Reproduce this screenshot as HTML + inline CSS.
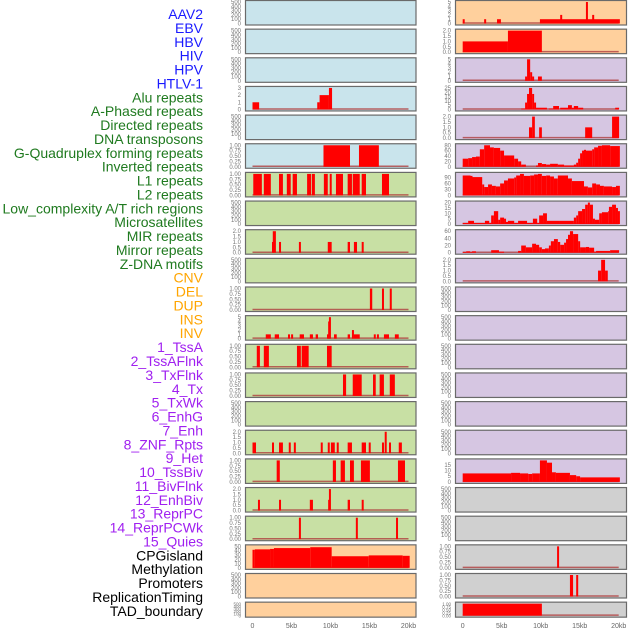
<!DOCTYPE html>
<html><head><meta charset="utf-8"><style>
html,body{margin:0;padding:0;background:#fff;}
svg{display:block;}
</style></head><body>
<svg id="chart" width="630" height="630" viewBox="0 0 630 630" xmlns="http://www.w3.org/2000/svg"></svg>
<script>
// ---- data ----
const labelsBlue = ["AAV2","EBV","HBV","HIV","HPV","HTLV-1"];
const labelsGreen = ["Alu repeats","A-Phased repeats","Directed repeats","DNA transposons","G-Quadruplex forming repeats","Inverted repeats","L1 repeats","L2 repeats","Low_complexity A/T rich regions","Microsatellites","MIR repeats","Mirror repeats","Z-DNA motifs"];
const labelsOrange = ["CNV","DEL","DUP","INS","INV"];
const labelsPurple = ["1_TssA","2_TssAFlnk","3_TxFlnk","4_Tx","5_TxWk","6_EnhG","7_Enh","8_ZNF_Rpts","9_Het","10_TssBiv","11_BivFlnk","12_EnhBiv","13_ReprPC","14_ReprPCWk","15_Quies"];
const labelsBlack = ["CPGisland","Methylation","Promoters","ReplicationTiming","TAD_boundary"];
const xTickVals = [0,5,10,15,20];
const xTickLabels = ["0","5kb","10kb","15kb","20kb"];

const E = [0,100,200,300,400,500];
const F = [0,0.25,0.5,0.75,1];
const T2 = [0,0.5,1,1.5,2];
const leftTicks = [E,E,E,[0,1,2,3],E,F,F,E,T2,E,F,[0,1,2,3,4,5],F,F,E,T2,F,T2,F,[0,10,20,30,40,50],E,E];
const rightTicks = [[0,1,2,3,4,5],T2,[0,1,2,3,4,5],[0,5,10,15,20,25],T2,[0,20,40,60,80],[0,30,60,90],[0,5,10,15,20],[0,20,40,60],T2,E,E,E,E,E,E,[0,5,10,15],E,E,F,F,F];
const rightMax = [5,2,5,25,2,80,108,20,60,2,500,500,500,500,500,500,19,500,500,1,1,1];
const leftBg = ["#c9e4ec","#c9e4ec","#c9e4ec","#c9e4ec","#c9e4ec","#c9e4ec","#c8e0a4","#c8e0a4","#c8e0a4","#c8e0a4","#c8e0a4","#c8e0a4","#c8e0a4","#c8e0a4","#c8e0a4","#c8e0a4","#c8e0a4","#c8e0a4","#c8e0a4","#ffd09d","#ffd09d","#ffd09d"];
const rightBg = ["#ffd09d","#ffd09d","#d6c6e2","#d6c6e2","#d6c6e2","#d6c6e2","#d6c6e2","#d6c6e2","#d6c6e2","#d6c6e2","#d6c6e2","#d6c6e2","#d6c6e2","#d6c6e2","#d6c6e2","#d6c6e2","#d6c6e2","#d0d0d0","#d0d0d0","#d0d0d0","#d0d0d0","#d0d0d0"];

// segments: [startKb, endKb, value]
const L3 = [[0,0.85,1],[8.3,8.6,1],[8.6,9.8,2],[9.8,10.2,3]];
const L5 = [[9.1,12.5,1],[13.65,16.2,1]];
const L6 = [[0.1,1.2,1],[1.45,2.35,1],[3.4,3.9,1],[4.4,4.9,1],[5.15,5.7,1],[7.0,7.5,1],[7.6,8.0,1],[9.15,9.65,1],[9.9,10.15,1],[10.7,11.6,1],[12.2,12.75,1],[12.85,13.75,1],[14.0,14.55,1],[16.6,17.5,1]];
const L8 = [[2.5,2.6,1],[2.6,3.0,2],[3.4,3.65,1],[5.95,6.2,1],[9.65,10.15,1],[12.2,12.5,1],[13.0,13.4,1],[14.0,14.25,1]];
const L10 = [[15.05,15.35,1],[16.6,16.85,1],[17.6,17.85,1]];
const L11 = [[1.7,2.35,1],[2.85,3.4,1],[4.55,4.8,1],[4.95,5.2,1],[6.05,6.6,1],[7.35,7.75,1],[8.1,8.4,1],[9.55,9.7,1],[9.7,9.8,4],[9.8,10.0,5],[10.45,10.8,1],[12.2,12.5,1],[12.75,13.0,2],[13.0,13.75,1],[15.55,15.8,1],[15.95,16.2,1],[16.85,17.5,1],[18.25,18.75,1]];
const L12 = [[0.55,0.95,1],[1.45,2.1,1],[5.7,6.2,1],[6.3,7.2,1],[9.55,10.15,1]];
const L13 = [[11.6,12.0,1],[12.85,14.0,1],[15.45,15.8,1],[16.3,16.85,1],[17.6,18.25,1]];
const L15 = [[0,0.45,1],[2.5,2.75,1],[3.4,3.9,1],[4.65,4.9,1],[5.3,5.55,1],[8.75,9.0,1],[9.65,9.9,1],[10.05,10.55,1],[10.8,11.05,1],[12.2,12.75,1],[14.0,14.55,1],[14.9,15.15,1],[16.6,16.85,1],[16.95,17.2,2],[17.5,17.75,1],[18.75,19.15,1]];
const L16 = [[3.1,3.5,1],[10.3,10.7,1],[11.3,11.85,1],[12.5,13.0,1],[13.9,15.05,1],[18.65,19.55,1]];
const L17 = [[0.7,0.95,1],[3.4,3.65,1],[7.35,7.75,1],[9.7,9.8,1],[9.8,10.05,2],[12.2,12.5,1],[14.0,14.25,1]];
const L18 = [[5.95,6.2,1],[13.25,13.5,1],[18.4,18.65,1]];
const L19 = [[0,0.3,42],[0.3,2.25,43],[2.25,2.75,44],[2.75,7.4,46],[7.4,10.15,48],[10.15,14.9,27],[14.9,19.25,29],[19.25,20.15,28]];
const R0 = [[0,0.15,1],[2.75,2.9,1],[4.4,4.9,1],[9.9,20.15,1],[12.5,12.7,2],[15.8,15.95,5],[16.6,16.8,2]];
const R1 = [[0,5.8,1],[5.8,10.15,2]];
const R2 = [[8.0,8.25,1],[8.25,8.65,5],[8.65,8.9,2],[8.9,9.15,1],[9.65,10.15,1]];
const R3 = [[7.5,8.0,1],[8.0,8.25,8],[8.25,8.5,18],[8.5,8.9,25],[8.9,9.15,18],[9.15,9.4,8],[9.4,10.8,2],[11.05,11.6,1],[11.6,12.35,4],[12.5,13.5,2],[13.5,14.0,5],[14.0,14.25,2],[14.25,14.8,4],[14.8,15.45,2],[19.55,20.05,2]];
const R4 = [[8.5,8.9,1],[8.9,9.25,2],[9.8,10.15,1],[15.7,16.6,1],[19.15,20.05,2]];
const R5 = [[0,0.7,30],[0.7,1.2,32],[1.2,1.7,36],[1.7,2.2,38],[2.2,2.75,65],[2.75,3.5,80],[3.5,4.0,72],[4.0,4.8,70],[4.8,5.3,60],[5.3,6.6,42],[6.6,7.1,30],[7.1,7.5,20],[7.5,8.1,8],[9.4,9.65,5],[9.65,10.15,14],[10.15,10.7,10],[10.7,11.2,8],[11.2,12.2,11],[12.2,13.0,8],[13.0,14.25,5],[14.25,14.55,8],[14.55,14.8,15],[14.8,15.05,30],[15.05,15.3,50],[15.3,15.55,60],[15.55,15.8,63],[15.8,16.6,60],[16.6,16.85,65],[16.85,17.35,72],[17.35,17.85,78],[17.85,18.9,80],[18.9,20.15,77]];
const R6 = [[0,1.0,100],[1.0,1.2,98],[1.2,2.5,92],[2.5,2.75,55],[2.75,3.25,42],[3.25,3.75,55],[3.75,4.25,48],[4.25,4.8,45],[4.8,5.3,60],[5.3,5.8,75],[5.8,6.6,85],[6.6,6.85,90],[6.85,7.35,100],[7.35,7.85,108],[7.85,8.65,98],[8.65,9.15,100],[9.15,9.65,105],[9.65,10.15,108],[10.15,10.7,98],[10.7,11.2,100],[11.2,11.7,95],[11.7,12.2,85],[12.2,13.5,100],[13.5,14.0,85],[14.0,15.55,72],[15.55,16.05,45],[16.05,16.6,40],[16.6,17.1,60],[17.1,17.6,55],[17.6,18.1,48],[18.1,19.15,45],[19.15,19.65,42],[19.65,20.15,48]];
const R7 = [[0,0.7,1],[0.7,1.45,3],[1.45,2.85,1],[2.85,3.4,3],[3.4,3.65,1],[3.65,4.0,8],[4.0,4.55,12],[4.55,4.8,4],[4.8,5.3,6],[5.3,5.55,5],[5.55,5.8,2],[5.8,6.6,3],[6.6,7.1,1],[7.1,8.25,3],[8.25,9.0,1],[9.0,9.55,5],[9.55,9.8,1],[9.8,10.3,8],[10.3,10.8,10],[10.8,12.35,3],[12.35,14.25,3],[14.25,14.55,6],[14.55,14.8,8],[14.8,15.3,12],[15.3,15.7,14],[15.7,16.05,18],[16.05,16.3,20],[16.3,16.7,18],[16.7,16.95,5],[16.95,17.5,4],[17.5,17.85,10],[17.85,18.65,11],[18.65,18.75,12],[18.75,19.15,16],[19.15,19.65,18],[19.65,19.9,15],[19.9,20.15,12]];
const R8 = [[0,0.45,2],[0.45,0.95,4],[0.95,1.2,2],[1.2,1.7,4],[3.65,4.65,7],[4.65,5.3,3],[7.1,7.5,5],[7.5,8.1,20],[8.1,8.9,15],[8.9,9.4,25],[9.4,9.8,22],[9.8,10.15,15],[10.15,10.55,10],[10.55,11.05,12],[11.05,11.3,20],[11.3,11.7,32],[11.7,12.2,38],[12.2,12.5,30],[12.5,13.0,22],[13.0,13.25,28],[13.25,13.5,38],[13.5,13.75,50],[13.75,14.15,60],[14.15,14.8,52],[14.8,15.05,32],[15.05,15.8,15],[15.8,16.2,16],[16.2,16.85,14],[16.85,17.1,3],[17.1,18.9,5],[18.9,20.05,7]];
const R9 = [[17.35,17.75,1],[17.75,18.25,2],[18.25,18.6,1]];
const R16 = [[0,6.2,7.5],[6.2,7.35,8],[7.35,8.4,7.5],[8.4,8.9,7],[8.9,9.9,7.5],[9.9,10.8,19],[10.8,11.45,17],[11.45,11.95,8.5],[11.95,13.75,8],[13.75,14.55,6],[14.55,15.05,5],[15.05,20.15,4]];
const R19 = [[12.1,12.35,1]];
const R20 = [[13.75,14.15,1],[14.55,14.8,1]];
const R21 = [[0,10.15,1]];

const leftData = {3:L3,5:L5,6:L6,8:L8,10:L10,11:L11,12:L12,13:L13,15:L15,16:L16,17:L17,18:L18,19:L19};
const rightData = {0:R0,1:R1,2:R2,3:R3,4:R4,5:R5,6:R6,7:R7,8:R8,9:R9,16:R16,19:R19,20:R20,21:R21};

// ---- drawing ----
const NS = "http://www.w3.org/2000/svg";
const svg = document.getElementById("chart");
function mk(tag, attrs, parent){
  const e = document.createElementNS(NS, tag);
  for (const k in attrs) e.setAttribute(k, attrs[k]);
  (parent||svg).appendChild(e);
  return e;
}
const PITCH = 28.65, PH = 24.5;
const cols = [
  {box0:245.5, box1:416, x0:252.5, tickX:241, ticks:leftTicks, bg:leftBg, data:leftData, name:"left"},
  {box0:455.5, box1:626.5, x0:462.7, tickX:451, ticks:rightTicks, bg:rightBg, data:rightData, name:"right"}
];
const KB = 7.8;
function fmt(v, ticks){
  if (ticks === F) return v.toFixed(2);
  if (ticks === T2) return v.toFixed(1);
  return String(v);
}

cols.forEach((c, ci) => {
  for (let i = 0; i < 22; i++) {
    const top = i * PITCH + 0.5;
    const h = (i === 21) ? 15 : PH;
    const g = mk("g", {});
    
    
    const bg = mk("rect", {x:c.box0, y:top, width:c.box1-c.box0, height:h, fill:c.bg[i], stroke:"#6a6a6a", "stroke-width":1.2}, g);
    
    
    const ticks = c.ticks[i];
    const ymax = (ci === 1) ? rightMax[i] : ticks[ticks.length-1];
    const pTop = top + 1.5, pBot = top + h - 1.5;
    const yS = v => pBot - (v / ymax) * (pBot - pTop);
    const xS = kb => c.x0 + kb * KB;
    ticks.forEach(t => {
      const tx = mk("text", {x:c.tickX, y:yS(t)+2, "text-anchor":"end", "font-size":(i===21?4.5:6), fill:"#777", "font-family":"Liberation Sans, sans-serif"}, g);
      tx.textContent = fmt(t, ticks);
      
      
    });
    const segs = c.data[i];
    if (segs) {
      const base = mk("line", {x1:xS(0), x2:xS(20), y1:pBot-0.5, y2:pBot-0.5, stroke:"#b04040", "stroke-width":1.5, opacity:0.8}, g);
      
      
      segs.forEach(s => {
        const x1 = xS(s[0]), x2 = xS(s[1]);
        const w = Math.max(2, x2 - x1);
        const r = mk("rect", {x:x1, y:yS(s[2]), width:w, height:pBot - yS(s[2]), fill:"#ff0000"}, g);
        
        
      });
    }
  }
  xTickVals.forEach((v, k) => {
    const t = mk("text", {x:c.x0 + v*KB, y:628, "text-anchor":"middle", "font-size":7, fill:"#666", "font-family":"Liberation Sans, sans-serif"});
    t.textContent = xTickLabels[k];
    
    
  });
});

// labels
const groups = [[labelsBlue,"#1a1aff"],[labelsGreen,"#1f7a1f"],[labelsOrange,"#ffa500"],[labelsPurple,"#a020f0"],[labelsBlack,"#000"]];
let idx = 0;
groups.forEach(gp => {
  gp[0].forEach(name => {
    const t = mk("text", {x:203, y:19 + idx*13.88, "text-anchor":"end", "font-size":14, fill:gp[1], "font-family":"Liberation Sans, sans-serif"});
    t.textContent = name;
    
    
    idx++;
  });
});
</script>
</body></html>
